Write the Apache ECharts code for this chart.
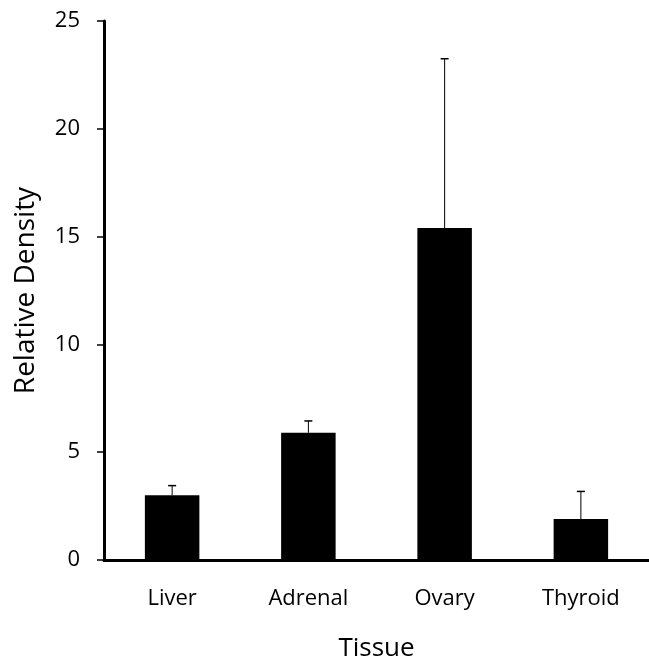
<!DOCTYPE html>
<html>
  <head>
    <meta charset="utf-8">
    <title>Relative Density by Tissue</title>
    <script src="https://cdn.jsdelivr.net/npm/echarts@6/dist/echarts.min.js"></script>
    <style>
    html, body { margin: 0; padding: 0; background: #fff; }
    #chart { width: 649px; height: 667px; }
    </style>
  </head>
  <body>
    <div id="chart"></div>
    <script type="text/javascript">
      var tissues = ['Liver', 'Adrenal', 'Ovary', 'Thyroid'];
      var density = [3.0, 5.9, 15.4, 1.9];
      var errorUp = [0.45, 0.55, 7.85, 1.28];
      var yTicks = [0, 5, 10, 15, 20, 25];

      var font = '"Open Sans", "Liberation Sans", sans-serif';

      var chart = echarts.init(document.getElementById('chart'), null, { renderer: 'canvas' });

      // error bar data: [category index, bar value, error]
      var errData = density.map(function (v, i) { return [i, v, errorUp[i]]; });

      var option = {
        animation: false,
        backgroundColor: '#ffffff',
        grid: { left: 104, top: 21, width: 553, height: 539, containLabel: false },
        xAxis: {
          type: 'category',
          data: tissues,
          name: 'Tissue',
          nameLocation: 'middle',
          nameGap: 76,
          nameTextStyle: { fontFamily: font, fontSize: 26, color: '#000' },
          axisLine: { lineStyle: { color: '#000', width: 3 } },
          axisTick: { show: false },
          axisLabel: { fontFamily: font, fontSize: 22, color: '#000', margin: 28 },
          splitLine: { show: false }
        },
        yAxis: {
          type: 'value',
          min: yTicks[0],
          max: yTicks[yTicks.length - 1],
          interval: 5,
          name: 'Relative Density',
          nameLocation: 'middle',
          nameGap: 64,
          nameTextStyle: { fontFamily: font, fontSize: 28, color: '#000' },
          axisLine: { show: true, lineStyle: { color: '#000', width: 3 } },
          axisTick: { show: true, length: 7, lineStyle: { color: '#000', width: 1.5 } },
          axisLabel: { fontFamily: font, fontSize: 22, color: '#000', margin: 24 },
          splitLine: { show: false }
        },
        series: [
          {
            type: 'bar',
            data: density,
            barWidth: '40%',
            itemStyle: { color: '#000' }
          },
          {
            type: 'custom',
            data: errData,
            encode: { x: 0, y: 1 },
            z: 1,
            renderItem: function (params, api) {
              var idx = api.value(0);
              var base = api.coord([idx, api.value(1)]);
              var top = api.coord([idx, api.value(1) + api.value(2)]);
              var half = 4;
              return {
                type: 'group',
                children: [
                  { type: 'line', shape: { x1: base[0], y1: base[1], x2: top[0], y2: top[1] }, style: { stroke: '#000', lineWidth: 1 } },
                  { type: 'line', shape: { x1: top[0] - half, y1: top[1], x2: top[0] + half, y2: top[1] }, style: { stroke: '#000', lineWidth: 1.5 } }
                ]
              };
            }
          }
        ]
      };
      chart.setOption(option);
    </script>
  </body>
</html>
